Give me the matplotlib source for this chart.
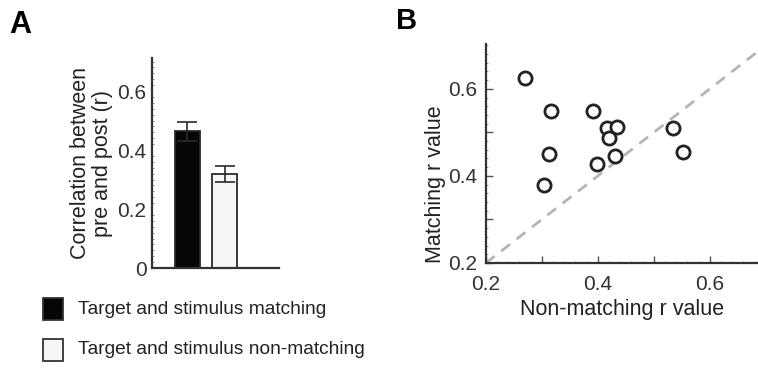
import matplotlib
matplotlib.use('Agg')
import numpy as np
import matplotlib.pyplot as plt
from matplotlib.ticker import MultipleLocator
from matplotlib.patches import Rectangle

plt.rcParams['font.family'] = ['Liberation Sans', 'DejaVu Sans']

# panel A data
conditions = ['Target and stimulus matching', 'Target and stimulus non-matching']
bar_means = [0.464, 0.319]
bar_errs = [0.032, 0.028]
bar_colors = ['#040608', '#f7f5f7']

# panel B data
nonmatch_r = [0.270, 0.317, 0.391, 0.416, 0.434, 0.420, 0.312, 0.399, 0.430, 0.303, 0.535, 0.552]
match_r = [0.625, 0.549, 0.549, 0.509, 0.512, 0.487, 0.451, 0.428, 0.445, 0.380, 0.510, 0.455]

spine_col = '#333333'
txt_col = '#222222'

fig = plt.figure(figsize=(7.58, 3.69), dpi=100)

# ---- panel A ----
axA = fig.add_axes([0.2005, 0.2737, 0.1675, 0.569])
xpos = [1, 2]
axA.bar(xpos, bar_means, width=0.667, color=bar_colors, edgecolor='#2a2a2a', linewidth=1.3)
axA.errorbar(xpos, bar_means, yerr=bar_errs, fmt='none', ecolor='#2a2a2a',
             elinewidth=1.2, capsize=7, capthick=1.2)
axA.set_xlim(0.053, 3.44)
axA.set_ylim(0, 0.712)
axA.set_xticks([])
axA.set_yticks([0, 0.2, 0.4, 0.6])
axA.set_yticklabels(['0', '0.2', '0.4', '0.6'])
axA.yaxis.set_minor_locator(MultipleLocator(0.02))
axA.tick_params(axis='y', which='major', direction='in', length=0, labelsize=15,
                labelcolor='#333333', pad=4)
axA.tick_params(axis='y', which='minor', direction='in', length=1.5, color='#777777')
for s in ['top', 'right']:
    axA.spines[s].set_visible(False)
for s in ['left', 'bottom']:
    axA.spines[s].set_color(spine_col)
    axA.spines[s].set_linewidth(1.6)
axA.set_ylabel('Correlation between\npre and post (r)', fontsize=15.5, color=txt_col,
               labelpad=3, linespacing=1.05)

# legend boxes drawn in figure coords
for i, (lab, col) in enumerate(zip(conditions, bar_colors)):
    yb = 1 - (320 + i * 41) / 369
    fig.patches.append(Rectangle((43 / 758, yb), 20 / 758, 22 / 369,
                                 transform=fig.transFigure, facecolor=col,
                                 edgecolor='#333333', linewidth=1.3))
    fig.text(78 / 758, yb + 11 / 369, lab, fontsize=13.8, color=txt_col, va='center')

fig.text(9 / 758, 1 - 25 / 369, 'A', fontsize=22, fontweight='bold', va='center')
fig.text(396 / 758, 1 - 21 / 369, 'B', fontsize=21, fontweight='bold', va='center')

# ---- panel B ----
axB = fig.add_axes([0.641, 0.2873, 0.359, 0.5935])
axB.plot([0.2, 0.7], [0.2, 0.7], linestyle=(0, (4, 3)), color='#b5b5b5', linewidth=2, zorder=1)
axB.scatter(nonmatch_r, match_r, s=90, facecolors='white', edgecolors='#222222',
            linewidths=2, zorder=3)
axB.set_xlim(0.2, 0.686)
axB.set_ylim(0.2, 0.703)
axB.set_xticks([0.2, 0.3, 0.4, 0.5, 0.6])
axB.set_xticklabels(['0.2', '', '0.4', '', '0.6'])
axB.set_yticks([0.2, 0.3, 0.4, 0.5, 0.6])
axB.set_yticklabels(['0.2', '', '0.4', '', '0.6'])
axB.xaxis.set_minor_locator(MultipleLocator(0.02))
axB.yaxis.set_minor_locator(MultipleLocator(0.02))
axB.tick_params(which='major', direction='in', length=5, width=1, color='#555555',
                labelsize=15, labelcolor='#333333')
axB.tick_params(axis='x', which='major', pad=9)
axB.tick_params(axis='y', which='major', pad=6)
axB.tick_params(which='minor', direction='in', length=1.5, color='#888888')
for s in ['top', 'right']:
    axB.spines[s].set_visible(False)
for s in ['left', 'bottom']:
    axB.spines[s].set_color(spine_col)
    axB.spines[s].set_linewidth(1.6)
axB.set_xlabel('Non-matching r value', fontsize=15.5, color=txt_col, labelpad=3)
axB.set_ylabel('Matching r value', fontsize=15.5, color=txt_col, labelpad=6)
axB.yaxis.set_label_coords(-0.145, 0.36)

fig.savefig('out.png', dpi=100)
